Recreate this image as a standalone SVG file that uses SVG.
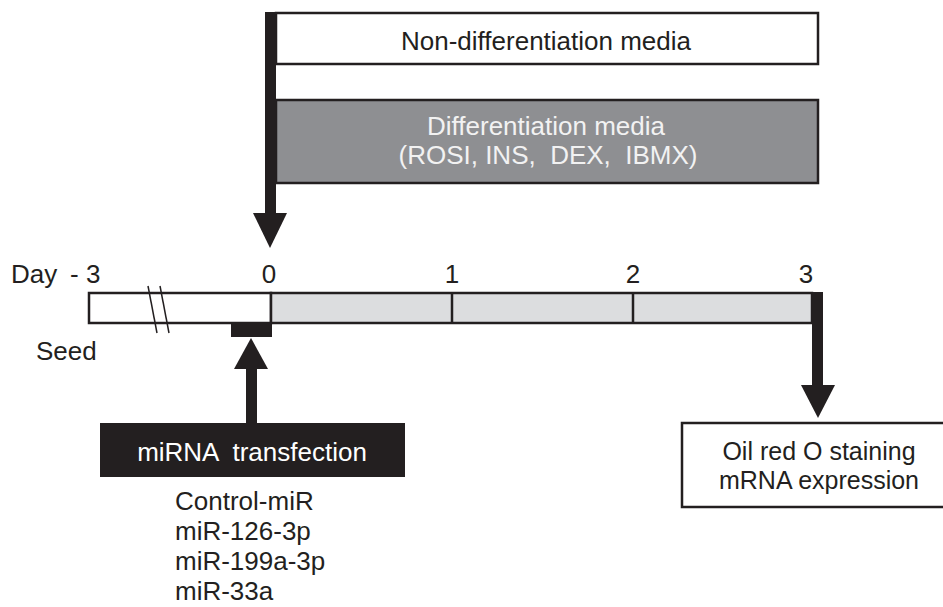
<svg xmlns="http://www.w3.org/2000/svg" width="943" height="607" viewBox="0 0 943 607">
<style>
text { font-family: "Liberation Sans", Arial, sans-serif; font-size: 26px; fill: #231f20; }
.mid { text-anchor: middle; }
.light { fill: #f2f2f2; }
.white { fill: #ffffff; }
.small { font-size: 25px; }
.box { stroke: #231f20; stroke-width: 2.5; }
.bar { stroke: #231f20; stroke-width: 2.5; }
.arrow { fill: #231f20; }
</style>
<rect width="943" height="607" fill="#ffffff"/>
<g id="non-diff-media">
<rect class="box" x="276" y="13" width="542" height="51" fill="#ffffff"/>
<text class="mid" x="546" y="50">Non-differentiation media</text>
</g>
<g id="diff-media">
<rect class="box" x="276" y="100" width="542" height="83" fill="#8e8f92"/>
<text class="mid light" x="546" y="135">Differentiation media</text>
<text class="mid light" x="548" y="164" xml:space="preserve">(ROSI, INS,  DEX,  IBMX)</text>
</g>
<g id="timeline">
<rect class="bar" x="89" y="293" width="182" height="30" fill="#ffffff"/>
<rect class="bar" x="271" y="293" width="541" height="30" fill="#dcdddf"/>
<line class="bar" x1="452" y1="293" x2="452" y2="323"/>
<line class="bar" x1="633" y1="293" x2="633" y2="323"/>
<line x1="148" y1="286" x2="157" y2="333" stroke="#231f20" stroke-width="1.5"/>
<line x1="160" y1="286" x2="169" y2="333" stroke="#231f20" stroke-width="1.5"/>
<rect x="231" y="322" width="41" height="15" fill="#231f20"/>
<text x="11" y="283">Day</text>
<text x="70" y="283">- 3</text>
<text class="mid" x="269" y="283">0</text>
<text class="mid" x="452" y="283">1</text>
<text class="mid" x="633" y="283">2</text>
<text class="mid" x="806" y="283">3</text>
<text x="36" y="360">Seed</text>
</g>
<g id="transfection">
<rect x="100" y="423" width="305" height="54" fill="#231f20"/>
<text class="mid white" x="252" y="461" xml:space="preserve">miRNA  transfection</text>
<text x="175" y="510">Control-miR</text>
<text x="175" y="540">miR-126-3p</text>
<text x="175" y="570">miR-199a-3p</text>
<text x="175" y="600">miR-33a</text>
</g>
<g id="readout">
<rect class="box" x="682" y="423" width="270" height="84" fill="#ffffff"/>
<text class="mid small" x="819" y="460">Oil red O staining</text>
<text class="mid small" x="819" y="489">mRNA expression</text>
</g>
<g id="connectors">
<rect class="arrow" x="265" y="12" width="11" height="203"/>
<polygon class="arrow" points="253,213 287,213 270,248"/>
<rect class="arrow" x="246" y="367" width="11" height="56"/>
<polygon class="arrow" points="234,369 268,369 251,338"/>
<rect class="arrow" x="812" y="292" width="11" height="95"/>
<polygon class="arrow" points="801,385 835,385 818,418"/>
</g>
</svg>
